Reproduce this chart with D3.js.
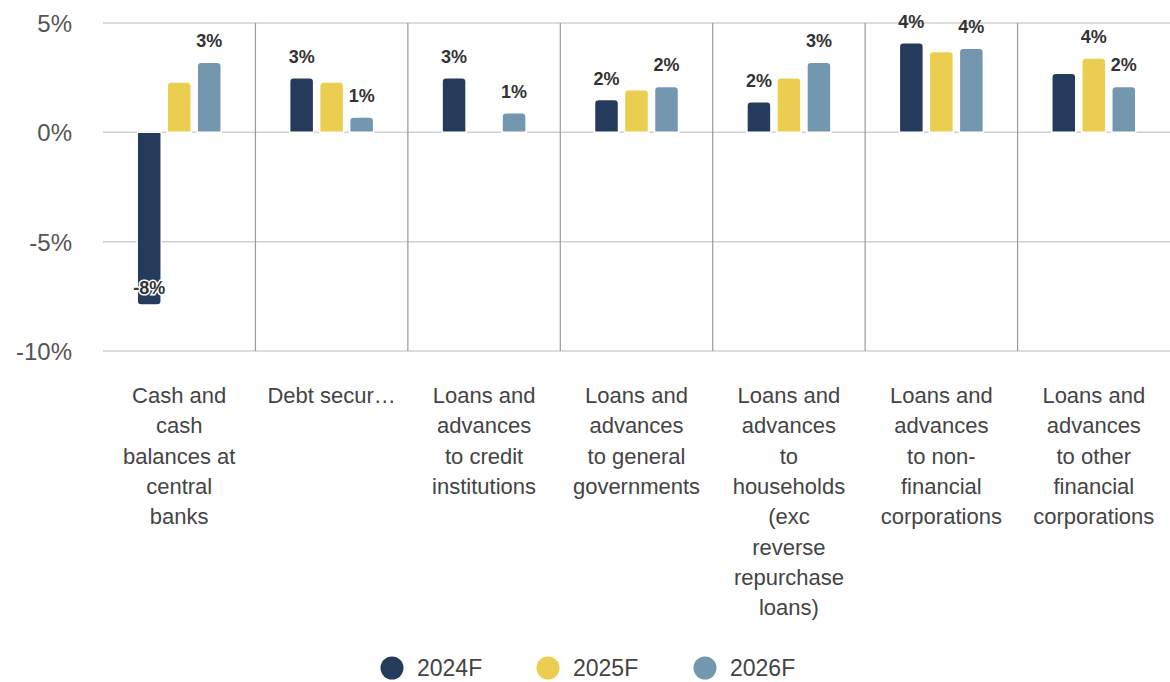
<!DOCTYPE html>
<html><head><meta charset="utf-8">
<script src="https://cdn.jsdelivr.net/npm/d3@7"></script>
<style>body{margin:0;background:#fff}svg{display:block;font-family:"Liberation Sans",Arial,sans-serif}</style>
</head><body><svg id="c" width="1170" height="682"></svg>
<script>
const categories = [
  ["Cash and","cash","balances at","central","banks"],
  ["Debt secur…"],
  ["Loans and","advances","to credit","institutions"],
  ["Loans and","advances","to general","governments"],
  ["Loans and","advances","to","households","(exc","reverse","repurchase","loans)"],
  ["Loans and","advances","to non-","financial","corporations"],
  ["Loans and","advances","to other","financial","corporations"]
];
const seriesNames = ["2024F","2025F","2026F"];
const v2024 = [-7.9, 2.5, 2.5, 1.5, 1.4, 4.1, 2.7];
const v2025 = [2.3, 2.3, null, 1.95, 2.5, 3.7, 3.4];
const v2026 = [3.2, 0.7, 0.9, 2.1, 3.2, 3.85, 2.1];
const l2024 = ["-8%","3%","3%","2%","2%","4%",null];
const l2025 = [null,null,null,null,null,null,"4%"];
const l2026 = ["3%","1%","1%","2%","3%","4%","2%"];
const yTicks = [5, 0, -5, -10];
const colors = ["#243b5b","#ebcd4f","#7397ae"];

const values = [v2024, v2025, v2026];
const labels = [l2024, l2025, l2026];
const svg = d3.select("#c");
const x = d3.scaleBand().domain(d3.range(categories.length)).range([103, 1170]).padding(0);
const y = d3.scaleLinear().domain([-10, 5]).range([351, 23]);
const bw = x.bandwidth();

svg.append("g").selectAll("line").data(yTicks).join("line")
  .attr("x1", 103).attr("x2", 1170).attr("y1", d => y(d)).attr("y2", d => y(d))
  .attr("stroke", "#d0d0d0").attr("stroke-width", 1.5);
svg.append("g").selectAll("line").data(d3.range(1, categories.length)).join("line")
  .attr("x1", d => x(d)).attr("x2", d => x(d)).attr("y1", y(5)).attr("y2", y(-10))
  .attr("stroke", "#9a9a9a").attr("stroke-width", 1.2);

const yAxis = d3.axisLeft(y).tickValues(yTicks).tickFormat(d => d + "%").tickSize(0).tickPadding(0);
const ya = svg.append("g").attr("transform", "translate(72,0)").call(yAxis);
ya.select(".domain").remove();
ya.selectAll("text").attr("font-size", 24).attr("fill", "#555").attr("font-family", "Liberation Sans, Arial, sans-serif").attr("dy", "0.36em");

function barPath(x0, w, v0, v1, r) {
  const top = Math.min(v0, v1), bot = Math.max(v0, v1);
  r = Math.min(r, (bot - top) / 2);
  if (v1 < v0) {
    return `M${x0},${bot}V${top + r}Q${x0},${top} ${x0 + r},${top}H${x0 + w - r}Q${x0 + w},${top} ${x0 + w},${top + r}V${bot}Z`;
  } else {
    return `M${x0},${top}V${bot - r}Q${x0},${bot} ${x0 + r},${bot}H${x0 + w - r}Q${x0 + w},${bot} ${x0 + w},${bot - r}V${top}Z`;
  }
}

const bars = [];
categories.forEach((c, i) => {
  const cx = x(i) + bw / 2;
  const inner = d3.scaleBand().domain(seriesNames).range([cx - 42, cx + 42]).paddingInner(0.2);
  seriesNames.forEach((s, j) => {
    bars.push({ i, j, s, v: values[j][i], lab: labels[j][i], x0: inner(s), w: inner.bandwidth() });
  });
});

svg.append("g").selectAll("path").data(bars.filter(d => d.v != null)).join("path")
  .attr("d", d => barPath(d.x0, d.w, y(0), y(d.v), 4))
  .attr("fill", d => colors[d.j]).attr("stroke", "#fff").attr("stroke-width", 1.5);

svg.append("g").selectAll("text").data(bars.filter(d => d.lab != null && d.v != null)).join("text")
  .attr("x", d => d.x0 + d.w / 2)
  .attr("y", d => d.v >= 0 ? y(d.v) - 15 : y(d.v) - 11)
  .attr("text-anchor", "middle").attr("font-size", 18).attr("font-weight", "bold")
  .attr("fill", "#333").attr("stroke", "#fff").attr("stroke-width", d => d.v < 0 ? 3 : 0)
  .attr("paint-order", "stroke")
  .text(d => d.lab);

const cl = svg.append("g").selectAll("text").data(categories).join("text")
  .attr("x", (d, i) => x(i) + bw / 2).attr("y", 403)
  .attr("text-anchor", "middle").attr("font-size", 22).attr("fill", "#444");
cl.selectAll("tspan").data(d => d).join("tspan")
  .attr("x", function() { return d3.select(this.parentNode).attr("x"); })
  .attr("dy", (d, k) => k === 0 ? 0 : 30.3)
  .text(d => d);

const lx = [392, 548, 705];
const lg = svg.append("g").selectAll("g").data(seriesNames).join("g")
  .attr("transform", (d, j) => `translate(${lx[j]},668)`);
lg.append("circle").attr("r", 11.5).attr("fill", (d, j) => colors[j]);
lg.append("text").attr("x", 25).attr("dy", "0.36em").attr("font-size", 23).attr("fill", "#444").text(d => d);
</script></body></html>
